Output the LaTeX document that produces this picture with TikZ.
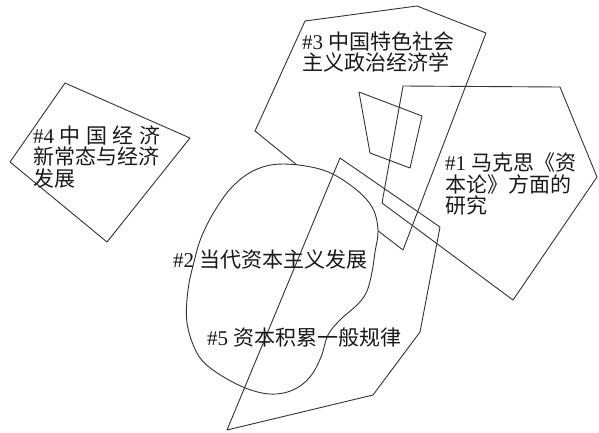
\documentclass[tikz,border=0pt]{standalone}
\usepackage{fontspec}
\setmainfont{Liberation Serif}
\newfontfamily\cjk{Noto Sans CJK SC}
\begin{document}
\begin{tikzpicture}[x=1pt,y=-1pt,
  shp/.style={draw=black!80, line width=0.9pt, line join=round},
  lbl/.style={inner sep=0pt, anchor=west, align=left, text=black!90,
    font=\fontsize{21}{21.5}\selectfont}]
\useasboundingbox (0,0) rectangle (599,432);
% #3 polygon
\coordinate (c1) at (305,21); \coordinate (c2) at (417,6); \coordinate (c3) at (486,33);
\coordinate (c4) at (403,250); \coordinate (c5) at (377,230); \coordinate (c6) at (255,131);
\draw[shp] (c1) -- (c2) -- (c3) -- (c4) -- (c5) -- (c6) -- cycle;
% #2 blob (white filled, hides part of #3)
\draw[shp, fill=white] plot[smooth cycle, tension=0.6] coordinates {
  (283,164) (323,170) (353,187) (372,207) (378,230) (375,252) (372,272) (367,291)
  (358,304) (340,320) (328,335) (321,357) (310,377) (293,390) (270,394) (243,387)
  (213,370) (197,353) (187,323) (188,290) (194,262) (201,238) (214,212) (232,187) (255,170)};
% #4 polygon
\coordinate (d1) at (65,83); \coordinate (d2) at (190,138); \coordinate (d3) at (107,242); \coordinate (d4) at (10,162);
\draw[shp] (d1) -- (d2) -- (d3) -- (d4) -- cycle;
% small quadrilateral
\coordinate (q1) at (359,92); \coordinate (q2) at (422,116); \coordinate (q3) at (410,168); \coordinate (q4) at (370,153);
\draw[shp] (q1) -- (q2) -- (q3) -- (q4) -- cycle;
% #1 pentagon
\coordinate (p1) at (403,86); \coordinate (p2) at (560,87); \coordinate (p3) at (597,177);
\coordinate (p4) at (513,300); \coordinate (p5) at (382,203);
\draw[shp] (p1) -- (p2) -- (p3) -- (p4) -- (p5) -- cycle;
% #5 polygon
\coordinate (e1) at (340,158); \coordinate (e2) at (440,227); \coordinate (e3) at (420,332);
\coordinate (e4) at (373,395); \coordinate (e5) at (227,430);
\draw[shp] (e1) -- (e2) -- (e3) -- (e4) -- (e5) -- cycle;
% labels
\node[lbl] (t3) at (302,52) {\rmfamily\#3 {\cjk 中国特色社会}\\{\cjk 主义政治经济学}};
\node[lbl] (t1) at (445,184) {\rmfamily\#1 {\cjk 马克思《资}\\{\cjk 本论》方面的}\\{\cjk 研究}};
\node[lbl] (t4) at (33,157) {\makebox[127pt][s]{\rmfamily\#4\hfill\cjk 中\hfill 国\hfill 经\hfill 济}\\{\cjk 新常态与经济}\\{\cjk 发展}};
\node[lbl] (t2) at (173,260) {\rmfamily\#2 {\cjk 当代资本主义发展}};
\node[lbl] (t5) at (207,338) {\rmfamily\#5 {\cjk 资本积累一般规律}};
\end{tikzpicture}
\end{document}
